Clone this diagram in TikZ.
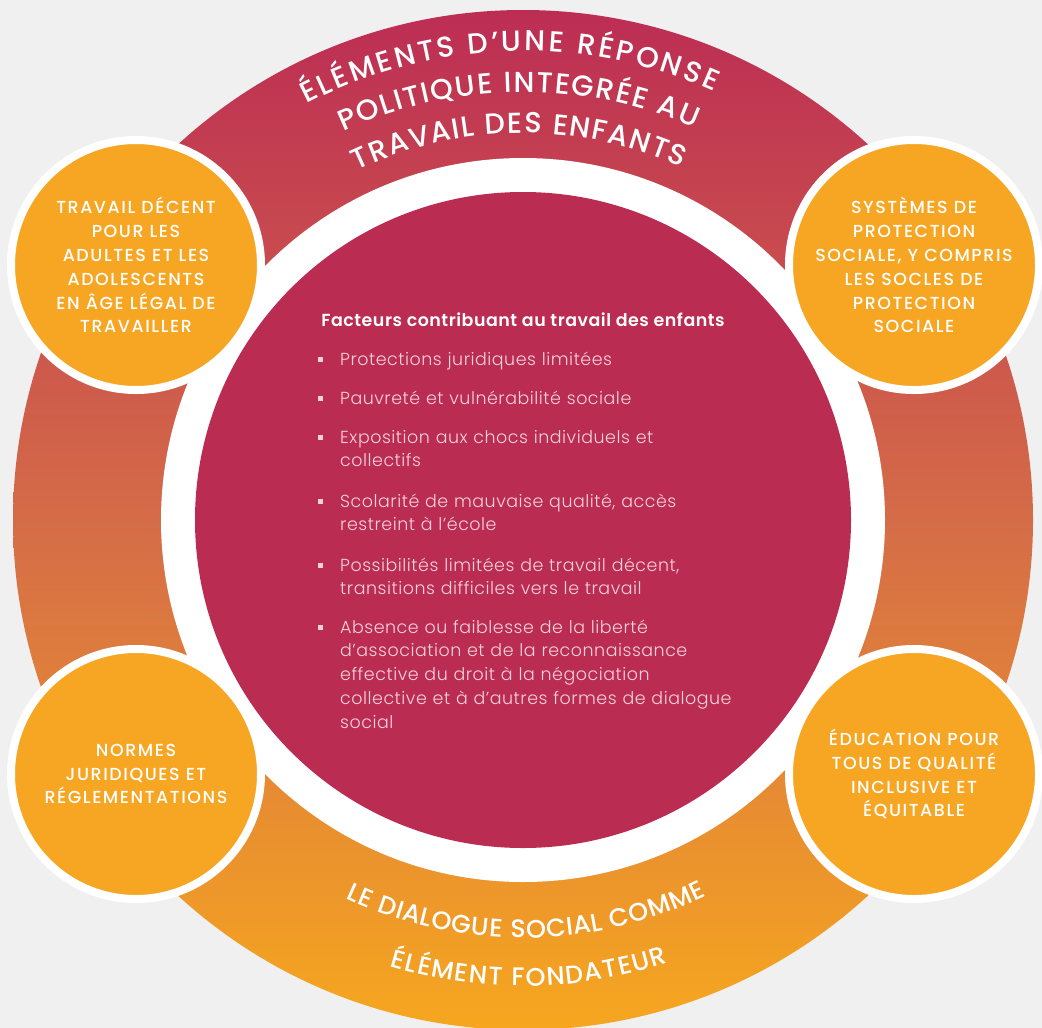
\documentclass[tikz,border=0pt]{standalone}
\usepackage{fontspec}
\setmainfont{Poppins}
\IfFontExistsTF{Poppins Medium}
  {\newfontfamily\medfont{Poppins Medium}\newfontfamily\pillarfont{Poppins Medium}[LetterSpace=9]}
  {\newfontfamily\medfont{Poppins}\newfontfamily\pillarfont{Poppins}[LetterSpace=9]}
\IfFontExistsTF{Poppins Light}
  {\newfontfamily\lightfont{Poppins Light}[LetterSpace=3]}
  {\newfontfamily\lightfont{Poppins}[LetterSpace=3]}
\IfFontExistsTF{Poppins SemiBold}
  {\newfontfamily\headfont{Poppins SemiBold}[LetterSpace=3]}
  {\newfontfamily\headfont{Poppins}[LetterSpace=3]}
\usetikzlibrary{decorations.text}

\definecolor{bgc}{HTML}{F0F0F0}
\definecolor{ringtop}{HTML}{BC2D54}
\definecolor{ringmid}{HTML}{D56C48}
\definecolor{ringbot}{HTML}{F6A71F}
\definecolor{corec}{HTML}{BB2C53}
\definecolor{pillarc}{HTML}{F6A623}
\definecolor{bodytxt}{HTML}{F4D2DB}

\newcommand\ringfont{\medfont\fontsize{29}{32}\selectfont}
\newcommand\lowringfont{\medfont\fontsize{25.5}{30}\selectfont}

\tikzset{
  pillar/.style={circle, fill=pillarc, draw=white, line width=8bp,
    minimum size=250bp, inner sep=0pt, text=white, align=center,
    font=\pillarfont\fontsize{17.5}{24}\selectfont},
  ringtext/.style={decorate, decoration={text along path, text align={fit to path}, text color=white}},
  itemtext/.style={anchor=base west, inner sep=0pt, text width=440bp, align=left,
    text=bodytxt, font=\lightfont\fontsize{17.5}{24}\selectfont},
  dot/.style={rectangle, fill=bodytxt, minimum size=5bp, inner sep=0pt},
}

\begin{document}
\begin{tikzpicture}[x=1bp,y=1bp]
  % canvas
  \path[use as bounding box, fill=bgc] (0,0) rectangle (1042,-1028);
  \coordinate (C) at (523,-520);

  % outer ring with vertical gradient, white gap, and core disc
  \shade[top color=ringtop, bottom color=ringbot, middle color=ringmid] (C) circle[radius=510];
  \fill[white] (C) circle[radius=362];
  \node[circle, fill=corec, minimum size=656bp, inner sep=0pt] (core) at (C) {};

  % curved headings on the ring
  \path[ringtext, decoration={text={|\ringfont|ÉLÉMENTS D’UNE RÉPONSE}}]
    ([shift={(117.5:469)}]C) arc[start angle=117.5, end angle=66, radius=469];
  \path[ringtext, decoration={text={|\ringfont|POLITIQUE INTEGRÉE AU}}]
    ([shift={(114.8:428)}]C) arc[start angle=114.8, end angle=66.4, radius=428];
  \path[ringtext, decoration={text={|\ringfont|TRAVAIL DES ENFANTS}}]
    ([shift={(115.4:387)}]C) arc[start angle=115.4, end angle=65.8, radius=387];

  \path[ringtext, decoration={text={|\lowringfont|LE DIALOGUE SOCIAL COMME}}]
    ([shift={(244.9:418)}]C) arc[start angle=244.9, end angle=296, radius=418];
  \path[ringtext, decoration={text={|\lowringfont|ÉLÉMENT FONDATEUR}}]
    ([shift={(253.4:466)}]C) arc[start angle=253.4, end angle=288.1, radius=466];

  % four pillars
  \node[pillar] (tl) at (136,-265) {TRAVAIL DÉCENT\\POUR LES\\ADULTES ET LES\\ADOLESCENTS\\EN ÂGE LÉGAL DE\\TRAVAILLER};
  \node[pillar] (tr) at (914,-265) {SYSTÈMES DE\\PROTECTION\\SOCIALE, Y COMPRIS\\LES SOCLES DE\\PROTECTION\\SOCIALE};
  \node[pillar] (bl) at (136,-774) {NORMES\\JURIDIQUES ET\\RÉGLEMENTATIONS};
  \node[pillar] (br) at (914,-774) {ÉDUCATION POUR\\TOUS DE QUALITÉ\\INCLUSIVE ET\\ÉQUITABLE};

  % contributing factors
  \node[anchor=base, inner sep=0pt, text=white, font=\headfont\fontsize{17.5}{24}\selectfont]
    (title) at (523,-326) {Facteurs contribuant au travail des enfants};

  \node[itemtext] (i1) at (340,-365) {Protections juridiques limitées};
  \node[itemtext] (i2) at (340,-404) {Pauvreté et vulnérabilité sociale};
  \node[itemtext] (i3) at (340,-443) {Exposition aux chocs individuels et\\collectifs};
  \node[itemtext] (i4) at (340,-507) {Scolarité de mauvaise qualité, accès\\restreint à l’école};
  \node[itemtext] (i5) at (340,-571) {Possibilités limitées de travail décent,\\transitions difficiles vers le travail};
  \node[itemtext] (i6) at (340,-633) {Absence ou faiblesse de la liberté\\d’association et de la reconnaissance\\effective du droit à la négociation\\collective et à d’autres formes de dialogue\\social};

  \node[dot] (d1) at (320,-359) {};
  \node[dot] (d2) at (320,-398) {};
  \node[dot] (d3) at (320,-437) {};
  \node[dot] (d4) at (320,-501) {};
  \node[dot] (d5) at (320,-565) {};
  \node[dot] (d6) at (320,-627) {};
\end{tikzpicture}
\end{document}
